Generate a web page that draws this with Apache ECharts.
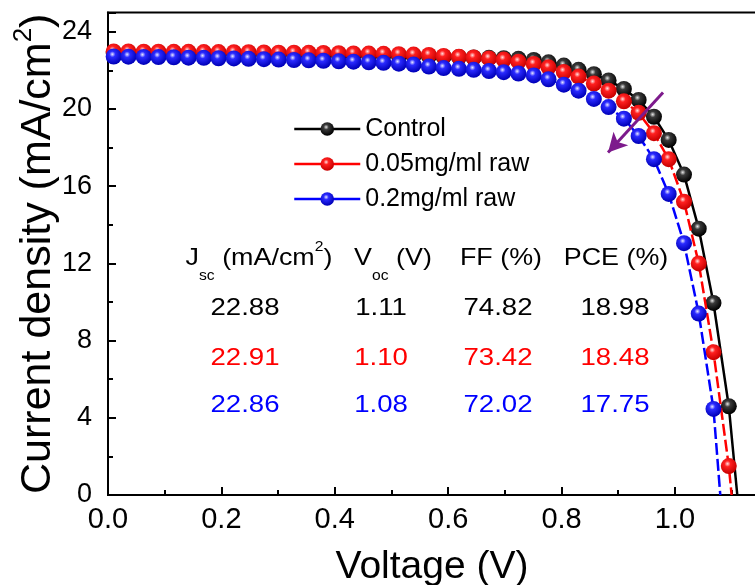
<!DOCTYPE html>
<html>
<head>
<meta charset="utf-8">
<script src="https://cdn.jsdelivr.net/npm/echarts@6/dist/echarts.min.js"></script>
<style>
  html, body { margin: 0; padding: 0; background: #fff; }
  #chart { width: 755px; height: 585px; }
</style>
</head>
<body>
<div id="chart"></div>
<script>
// Measurement grid (V)
const voltage = [
  0.010, 0.036, 0.063, 0.089, 0.116, 0.142, 0.169, 0.195, 0.222, 0.248,
  0.275, 0.301, 0.328, 0.354, 0.380, 0.407, 0.433, 0.460, 0.486, 0.513,
  0.539, 0.566, 0.592, 0.619, 0.645, 0.672, 0.698, 0.724, 0.751, 0.777,
  0.804, 0.830, 0.857, 0.883, 0.910, 0.936, 0.963, 0.989, 1.016, 1.042,
  1.068, 1.095
];

// Current density (mA/cm2) for each device
const controlJ = [
  22.90, 22.90, 22.89, 22.89, 22.88, 22.88, 22.87, 22.87, 22.86, 22.86,
  22.85, 22.84, 22.84, 22.83, 22.82, 22.81, 22.80, 22.79, 22.78, 22.76,
  22.75, 22.73, 22.71, 22.69, 22.67, 22.65, 22.63, 22.60, 22.54, 22.42,
  22.25, 22.03, 21.80, 21.48, 21.04, 20.47, 19.60, 18.40, 16.60, 13.80,
  9.95, 4.60
];
const raw005J = [
  22.98, 22.98, 22.97, 22.97, 22.96, 22.96, 22.95, 22.95, 22.94, 22.94,
  22.93, 22.92, 22.92, 22.91, 22.90, 22.89, 22.88, 22.87, 22.86, 22.84,
  22.82, 22.80, 22.75, 22.71, 22.67, 22.62, 22.56, 22.45, 22.33, 22.16,
  21.92, 21.68, 21.32, 20.95, 20.40, 19.80, 18.75, 17.40, 15.20, 12.00,
  7.40, 1.50
];
const raw02J = [
  22.72, 22.71, 22.70, 22.69, 22.68, 22.66, 22.65, 22.63, 22.62, 22.60,
  22.58, 22.56, 22.54, 22.52, 22.50, 22.47, 22.45, 22.42, 22.39, 22.35,
  22.30, 22.20, 22.12, 22.08, 22.03, 21.97, 21.91, 21.84, 21.74, 21.54,
  21.26, 20.95, 20.52, 20.10, 19.50, 18.60, 17.40, 15.60, 13.05, 9.40,
  4.46
];

const seriesNames = ['Control', '0.05mg/ml raw', '0.2mg/ml raw'];

// Photovoltaic parameters
const jscValues = ['22.88', '22.91', '22.86'];
const vocValues = ['1.11', '1.10', '1.08'];
const ffValues  = ['74.82', '73.42', '72.02'];
const pceValues = ['18.98', '18.48', '17.75'];
const vocNumbers = [1.11, 1.10, 1.08];

// Axis ticks
const xTickInterval = 0.2;
const yTickInterval = 4;

const FONT = "'Liberation Sans', Arial, Helvetica, sans-serif";

const palette = {
  black: { hi: '#e6e6e6', mid: '#3a3a3a', lo: '#000000', line: '#000000', text: '#000000' },
  red:   { hi: '#ffe0e0', mid: '#ff2020', lo: '#c80000', line: '#ff0000', text: '#ff0000' },
  blue:  { hi: '#e8e8ff', mid: '#2a2aff', lo: '#0000b8', line: '#0000ff', text: '#0000ff' }
};
const styles = [palette.black, palette.red, palette.blue];

function sphere(p) {
  return {
    type: 'radial', x: 0.42, y: 0.36, r: 0.62,
    colorStops: [
      { offset: 0, color: p.hi },
      { offset: 0.3, color: p.mid },
      { offset: 1, color: p.lo }
    ]
  };
}

function buildData(jArr, voc) {
  const pts = jArr.map((j, i) => [voltage[i], j]);
  pts.push({ value: [voc, 0], symbol: 'none' });
  return pts;
}

const curves = [controlJ, raw005J, raw02J];
const dashes = ['solid', [12, 4], [12, 4]];

const series = curves.map((arr, k) => ({
  name: seriesNames[k],
  type: 'line',
  data: buildData(arr, vocNumbers[k]),
  symbol: 'circle',
  symbolSize: 16,
  showAllSymbol: true,
  clip: true,
  z: 2 + k,
  lineStyle: { color: styles[k].line, width: 2.5, type: dashes[k] },
  itemStyle: { color: sphere(styles[k]), borderWidth: 0 },
  emphasis: { disabled: true }
}));

// purple trend arrow pointing towards lower efficiency
series[2].markLine = {
  silent: true,
  symbol: ['none', 'arrow'],
  symbolSize: [15, 19],
  label: { show: false },
  lineStyle: { color: '#7d1a8c', width: 3, type: 'solid' },
  data: [[{ coord: [0.979, 20.85] }, { coord: [0.882, 17.75] }]]
};

// Parameter table drawn as text
const colX = [259, 393, 501, 616];
const headerY = 258;
const rowY = [308, 358, 405];
const valueX = [245, 381, 498, 615];
const headerRich = {
  n: { fontSize: 24, fontFamily: FONT, fill: '#000' },
  sub: { fontSize: 14, fontFamily: FONT, fill: '#000', padding: [36, 0, 0, 0] },
  sup: { fontSize: 14, fontFamily: FONT, fill: '#000', padding: [0, 0, 22, 0] }
};
const headers = [
  '{n|J}{sub|sc}{n| (mA/cm}{sup|2}{n|)}',
  '{n|V}{sub|oc}{n| (V)}',
  '{n|FF (%)}',
  '{n|PCE (%)}'
];
const graphics = [];
headers.forEach((h, k) => {
  graphics.push({
    type: 'text', x: colX[k], y: headerY, scaleX: 1.12, silent: true,
    style: { text: h, rich: headerRich, align: 'center', verticalAlign: 'middle' }
  });
});
const columns = [jscValues, vocValues, ffValues, pceValues];
columns.forEach((col, c) => {
  col.forEach((txt, r) => {
    graphics.push({
      type: 'text', x: valueX[c], y: rowY[r], scaleX: 1.15, silent: true,
      style: {
        text: txt, fill: styles[r].text, fontSize: 24, fontFamily: FONT,
        align: 'center', verticalAlign: 'middle'
      }
    });
  });
});

const chart = echarts.init(document.getElementById('chart'), null, { renderer: 'canvas' });
chart.setOption({
  animation: false,
  backgroundColor: '#ffffff',
  textStyle: { fontFamily: FONT },
  grid: {
    left: 108, top: 12.5, right: -1, bottom: 90,
    outerBoundsMode: 'none',
    show: true, borderColor: '#000', borderWidth: 2, backgroundColor: 'transparent'
  },
  legend: {
    orient: 'vertical',
    left: 288, top: 110,
    itemWidth: 66, itemHeight: 17, itemGap: 7,
    textStyle: { fontSize: 25, lineHeight: 28, fontFamily: FONT, color: '#000', padding: [0, 0, 0, 0] },
    data: seriesNames.map((n, k) => ({
      name: n,
      lineStyle: { type: 'solid', width: 2.5, color: styles[k].line }
    }))
  },
  xAxis: {
    type: 'value',
    min: 0, max: 1.143, interval: xTickInterval,
    name: 'Voltage (V)',
    nameLocation: 'middle', nameGap: 53,
    nameMoveOverlap: false,
    nameTextStyle: { fontSize: 39, fontFamily: FONT, color: '#000' },
    axisLine: { onZero: false, lineStyle: { color: '#000', width: 2 } },
    axisTick: { inside: true, length: 8, lineStyle: { color: '#000', width: 2 } },
    minorTick: { show: true, splitNumber: 2, length: 5, lineStyle: { color: '#000', width: 2 } },
    splitLine: { show: false },
    axisLabel: {
      fontSize: 29, fontFamily: FONT, color: '#000', margin: 10,
      showMaxLabel: false,
      formatter: v => v.toFixed(1)
    }
  },
  yAxis: {
    type: 'value',
    min: 0, max: 25, interval: yTickInterval,
    name: '{a|Current density (mA/cm}{s|2}{a|)}',
    nameLocation: 'middle', nameGap: 43, nameRotate: 90,
    nameMoveOverlap: false,
    nameTextStyle: {
      color: '#000',
      rich: {
        a: { fontSize: 43, fontFamily: FONT, color: '#000' },
        s: { fontSize: 26, fontFamily: FONT, color: '#000', padding: [0, 0, 28, 0] }
      }
    },
    axisLine: { onZero: false, lineStyle: { color: '#000', width: 2 } },
    axisTick: { inside: true, length: 8, lineStyle: { color: '#000', width: 2 } },
    minorTick: { show: true, splitNumber: 2, length: 5, lineStyle: { color: '#000', width: 2 } },
    splitLine: { show: false },
    axisLabel: {
      fontSize: 27, fontFamily: FONT, color: '#000', margin: 16,
      showMaxLabel: false
    }
  },
  graphic: graphics,
  series: series
});
</script>
</body>
</html>
